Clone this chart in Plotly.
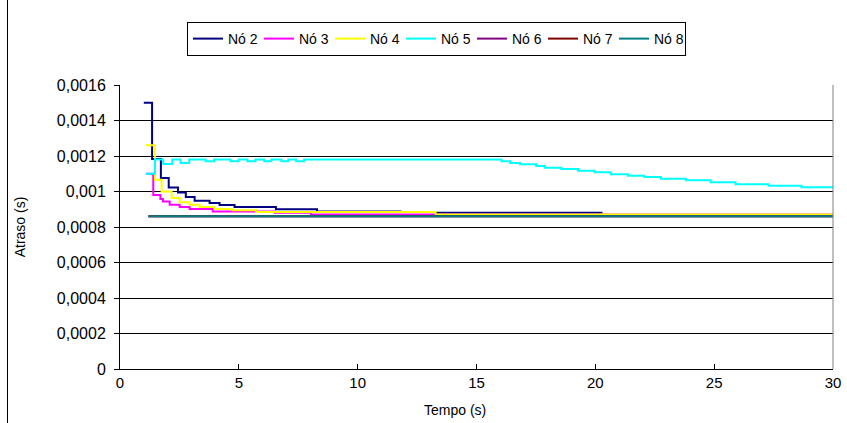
import plotly.graph_objects as go

# ---- data ----
n2_t = [1.0, 1.35, 1.72, 2.05, 2.44, 2.77, 3.14, 3.77, 4.19, 4.82, 6.56, 8.29, 11.84,
        None, 13.3, 20.3]
n2_v = [0.0015, 0.001183, 0.001076, 0.001023, 0.000995, 0.000969, 0.000948, 0.000935,
        0.000924, 0.000913, 0.000900, 0.000888, 0.000888,
        None, 0.00088, 0.00088]

n3_t = [1.09, 1.40, 1.70, 1.81, 2.09, 2.51, 2.93, 3.90, 6.50, 8.03, 30.0]
n3_v = [0.0011, 0.00098, 0.000958, 0.000944, 0.000926, 0.000913, 0.000901, 0.000888,
        0.00088, 0.00087, 0.00087]

n4_t = [1.09, 1.47, 1.75, 2.17, 2.51, 2.93, 3.35, 3.98, 4.73, 5.73, 13.28, 30.0]
n4_v = [0.00126, 0.001066, 0.0010, 0.000963, 0.000939, 0.000926, 0.000913, 0.000901,
        0.000894, 0.000884, 0.000870, 0.000870]

n5_t = [1.09, 1.47, 1.82, 2.20, 2.55, 2.91, 3.60, 3.96, 4.65, 4.99, 5.36, 5.70, 6.07, 6.37,
        6.79, 7.08, 7.41, 7.75, 16.05, 16.42, 16.83, 17.51, 17.88, 18.57, 19.27, 19.97,
        20.65, 21.37, 22.06, 22.76, 23.81, 24.85, 25.90, 27.29, 28.67, 30.0]
n5_v = [0.0011, 0.00118, 0.001155, 0.00118, 0.00116, 0.00118, 0.00117, 0.00118, 0.00117,
        0.00118, 0.00117, 0.00118, 0.00117, 0.00118, 0.00117, 0.00118, 0.00117, 0.00118,
        0.00117, 0.001161, 0.001154, 0.001143, 0.001134, 0.001127, 0.001117, 0.001108,
        0.001097, 0.001089, 0.001081, 0.001072, 0.001063, 0.001052, 0.001041, 0.001033,
        0.001024, 0.001024]

n6_t = [1.2, 30.0]
n6_v = [0.00086, 0.00086]

n7_t = [1.2, 30.0]
n7_v = [0.00086, 0.00086]

n8_t = [1.2, 30.0]
n8_v = [0.00086, 0.00086]

names = ["Nó 2", "Nó 3", "Nó 4", "Nó 5", "Nó 6", "Nó 7", "Nó 8"]
colors = ["#000080", "#FF00FF", "#FFFF00", "#00FFFF", "#800080", "#800000", "#008080"]
series_t = [n2_t, n3_t, n4_t, n5_t, n6_t, n7_t, n8_t]
series_v = [n2_v, n3_v, n4_v, n5_v, n6_v, n7_v, n8_v]

y_ticks = [0, 0.0002, 0.0004, 0.0006, 0.0008, 0.001, 0.0012, 0.0014, 0.0016]
y_ticktext = ["0", "0,0002", "0,0004", "0,0006", "0,0008", "0,001", "0,0012", "0,0014", "0,0016"]
x_ticks = [0, 5, 10, 15, 20, 25, 30]

FONT = "Liberation Sans, Arial, sans-serif"

fig = go.Figure()
for nm, c, t, v in zip(names, colors, series_t, series_v):
    fig.add_trace(go.Scatter(x=t, y=v, name=nm, mode="lines", line_shape="hv",
                             connectgaps=False, line=dict(color=c, width=2)))

fig.update_layout(
    width=847, height=423,
    margin=dict(l=120, r=14, t=85, b=54),
    paper_bgcolor="white", plot_bgcolor="white",
    font=dict(family=FONT, size=14, color="black"),
    showlegend=True,
    legend=dict(orientation="h", xref="container", yref="container",
                x=187 / 847, y=1 - 22 / 423, xanchor="left", yanchor="top",
                bordercolor="black", borderwidth=1, font=dict(size=14),
                entrywidth=26, entrywidthmode="pixels", tracegroupgap=0,
                itemwidth=30),
    xaxis=dict(range=[0, 30], tickvals=x_ticks, showgrid=False, zeroline=False,
               showline=True, linecolor="black", linewidth=1, ticks="inside",
               ticklen=5, tickcolor="black", automargin=False,
               tickfont=dict(size=15)),
    yaxis=dict(range=[0, 0.0016], tickvals=y_ticks, ticktext=y_ticktext,
               showgrid=True, gridcolor="black", gridwidth=1, zeroline=False,
               showline=True, linecolor="black", linewidth=1, ticks="outside",
               ticklen=5, tickcolor="black", automargin=False,
               ticklabelstandoff=5, tickfont=dict(size=16),
               title=dict(text="Atraso (s)", standoff=27, font=dict(size=14))),
    annotations=[
        dict(text="Tempo (s)", xref="paper", yref="paper", x=0.47, y=-0.145,
             xanchor="center", yanchor="middle", showarrow=False,
             font=dict(size=14)),
    ],
    shapes=[
        dict(type="line", xref="paper", yref="paper", x0=1, x1=1, y0=0, y1=1,
             line=dict(color="#808080", width=1)),
        dict(type="line", xref="paper", yref="paper", x0=-0.1578, x1=-0.1578,
             y0=-0.3, y1=1.5, line=dict(color="black", width=1)),
    ],
)

fig.write_html(
    "out.html",
    config={"displayModeBar": False},
    post_script="document.body.style.margin='0';document.body.style.overflow='hidden';",
)
